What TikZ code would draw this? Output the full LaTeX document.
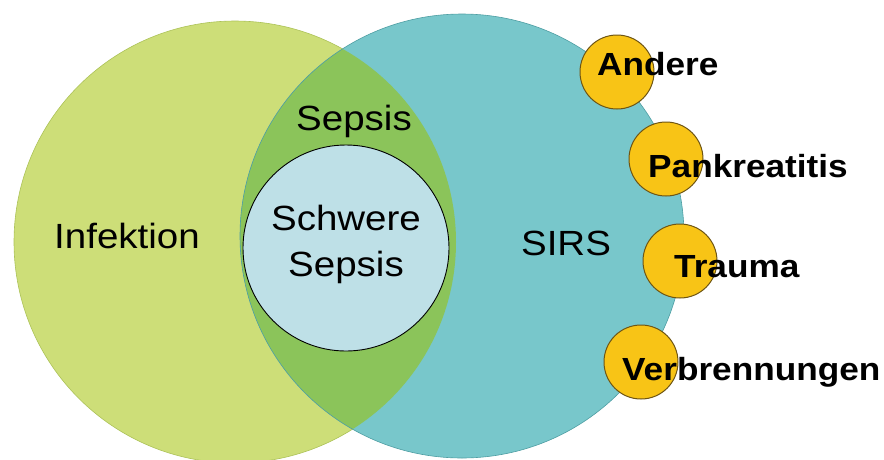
\documentclass[tikz,border=0pt]{standalone}
\usepackage{fontspec}
\setmainfont{Liberation Sans}[FakeStretch=1.1]
\usepackage{tikz}

\definecolor{infgreen}{RGB}{205,222,120}
\definecolor{infline}{RGB}{172,194,88}
\definecolor{sirsteal}{RGB}{120,199,203}
\definecolor{sirsline}{RGB}{78,158,163}
\definecolor{sepsisgreen}{RGB}{139,196,90}
\definecolor{schwereblue}{RGB}{190,224,231}
\definecolor{causeyellow}{RGB}{248,196,22}
\definecolor{causeline}{RGB}{110,85,20}

\begin{document}
\begin{tikzpicture}[x=1pt,y=-1pt,
                    set node/.style={circle,inner sep=0pt},
                    main text/.style={font=\fontsize{35}{46}\selectfont,inner sep=0pt,anchor=base},
                    cause node/.style={circle,draw=causeline,line width=1pt,fill=causeyellow,
                                       inner sep=0pt,minimum size=74pt},
                    cause text/.style={font=\bfseries\fontsize{32}{32}\selectfont,inner sep=0pt,anchor=base west}]

  \useasboundingbox (0,0) rectangle (884,459);

  \node[set node,fill=infgreen,draw=infline,line width=0.6pt,minimum size=442pt] (infektion) at (235,242) {};
  \node[set node,fill=sirsteal,draw=sirsline,line width=0.6pt,minimum size=444pt,
        path picture={\fill[sepsisgreen] (infektion.center) circle (221pt);}] (sirs) at (462,236) {};
  \node[set node,fill=schwereblue,draw=black,line width=0.9pt,minimum size=206pt] (schwere) at (346,248) {};

  \node[main text] (infektion label) at (127,248) {Infektion};
  \node[main text] (sepsis label) at (354,130) {Sepsis};
  \node[main text,anchor=center,align=center] (schwere label) at ([yshift=4pt]schwere.center) {Schwere\\Sepsis};
  \node[main text] (sirs label) at (566,255) {SIRS};

  \node[cause node] (andere) at (617,72) {};
  \node[cause node] (pankreatitis) at (666,159) {};
  \node[cause node] (trauma) at (680,261) {};
  \node[cause node] (verbrennungen) at (641,362) {};

  \node[cause text] (andere label) at ([shift={(-20,3)}]andere.center) {Andere};
  \node[cause text] (pankreatitis label) at ([shift={(-18,18)}]pankreatitis.center) {Pankreatitis};
  \node[cause text] (trauma label) at ([shift={(-6,16)}]trauma.center) {Trauma};
  \node[cause text] (verbrennungen label) at ([shift={(-19,18)}]verbrennungen.center) {Verbrennungen};
\end{tikzpicture}
\end{document}
